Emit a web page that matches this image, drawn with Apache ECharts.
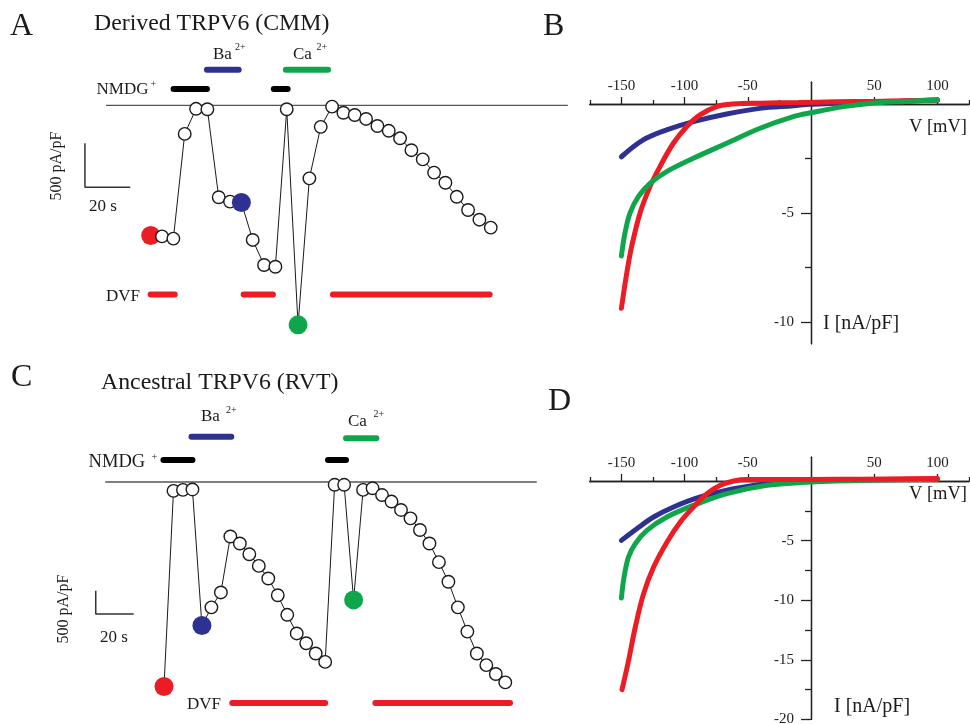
<!DOCTYPE html>
<html><head><meta charset="utf-8">
<script src="https://cdn.jsdelivr.net/npm/echarts@6/dist/echarts.min.js"></script>
<style>html,body{margin:0;padding:0;background:#fff}#c{width:970px;height:724px}</style>
</head><body><div id="c"></div>
<script>
// ================= DATA =================
const stepSec = 5; // seconds between successive points of the time courses
// Panel A: Derived TRPV6 (CMM) current at the test potential (pA/pF)
const traceA = [-1480, -1490, -1515, -325, -40, -45, -1045, -1095, -1105, -1530, -1815, -1835, -45, -2495, -830, -245, -15, -85, -110, -155, -235, -290, -375, -510, -615, -765, -880, -1040, -1190, -1300, -1390];
const markA = { red: 0, blue: 8, green: 13 };
// Panel C: Ancestral TRPV6 (RVT)
const traceC = [-4390, -190, -170, -160, -3080, -2690, -2370, -1170, -1320, -1550, -1800, -2070, -2430, -2850, -3250, -3460, -3680, -3860, -60, -60, -2530, -170, -135, -280, -420, -600, -780, -1030, -1320, -1720, -2140, -2690, -3210, -3680, -3930, -4120, -4300];
const markC = { red: 0, blue: 4, green: 20 };
// solution application periods (s)
const nmdgA = [[10.1, 24.8], [54.3, 60.4]];
const baA = [[24.8, 38.8]];
const caA = [[59.6, 78.2]];
const dvfA = [[0, 10.6], [41, 53.9], [80.4, 149.5]];
const nmdgC = [[-0.3, 15], [86.5, 96]];
const baC = [[14.5, 35.5]];
const caC = [[96, 112]];
const dvfC = [[36, 85], [111.5, 182.5]];
// Panel B: I-V curves (mV, nA/pF)
const bRedV = [-150, -145.8, -141.9, -135.3, -127.4, -119.5, -108.9, -98.4, -87.8, -74.6, -61.5, -40, -10, 20, 50, 75, 100];
const bRedI = [-9.37, -7.77, -6.54, -5.01, -3.79, -2.87, -1.80, -1.04, -0.50, -0.12, 0.0, 0.04, 0.07, 0.1, 0.12, 0.15, 0.18];
const bBlueV = [-150, -132.7, -114.2, -93.1, -66.7, -40.3, -14, 0, 38.8, 70, 100];
const bBlueI = [-2.42, -1.65, -1.19, -0.81, -0.46, -0.20, -0.08, -0.01, 0.08, 0.13, 0.18];
const bGreenV = [-150, -147.2, -143.2, -136.6, -127.4, -114.2, -93.1, -66.7, -40.3, -14, 0, 25.6, 52, 75, 100];
const bGreenI = [-6.97, -5.93, -5.01, -4.25, -3.64, -3.10, -2.49, -1.80, -1.11, -0.58, -0.40, -0.12, 0.06, 0.12, 0.18];
// Panel D
const dRedV = [-149.5, -144.4, -139.1, -132.5, -124.5, -114, -103.4, -92.9, -82.3, -71.7, -61.2, -50.6, -20, 20, 60, 100];
const dRedI = [-17.5, -15.1, -12.3, -9.47, -7.22, -5.13, -3.44, -2.18, -1.06, -0.36, 0, 0.12, 0.12, 0.14, 0.17, 0.2];
const dBlueV = [-150, -137.8, -124.5, -108.7, -87.6, -61.2, -34.7, 0, 50, 100];
const dBlueI = [-4.98, -4.0, -3.02, -2.18, -1.34, -0.64, -0.22, 0, 0.1, 0.15];
const dGreenV = [-150, -147.9, -144.4, -139.1, -129.8, -114, -92.9, -66.5, -34.7, 0, 50, 100];
const dGreenI = [-9.81, -8.07, -6.38, -5.27, -4.14, -3.02, -2.04, -1.06, -0.36, -0.08, 0.08, 0.15];
// axis ticks
const vLabels = [-150, -100, -50, 50, 100];
const vMinor = [-175, -125, -75, -25, 25, 75, 125];
const iLabelsB = [-5, -10];
const iMinorB = [-2.5, -7.5];
const iLabelsD = [-5, -10, -15, -20];
const iMinorD = [-2.5, -7.5, -12.5, -17.5];

// ================= LAYOUT / STYLE =================
const RED = '#ec1c24', BLUE = '#2e3192', GREEN = '#0fa64b', INK = '#1a1a1a';
const FONT = 'Liberation Serif';
const LA = { x0: 150.7, sx: 2.267, y0: 105.3, sy: 0.088, xr: [-60, 190], yr: [-3000, 1100],
  zero: [-19.7, 184], nmdgY: 185, ionY: 405, dvfY: -2150, scale: { t: -29, v: -932, dt: 20, dv: 500 } };
const LC = { x0: 164, sx: 1.896, y0: 482, sy: 0.0466, xr: [-70, 200], yr: [-5200, 1200],
  zero: [-31, 196.6], nmdgY: 472, ionY: 955, dvfY: -4740, scale: { t: -36, v: -2833, dt: 20, dv: 500 } };
function gridFrom(L) {
  return { left: L.x0 + L.xr[0] * L.sx, width: (L.xr[1] - L.xr[0]) * L.sx,
    top: L.y0 - L.yr[1] * L.sy, height: (L.yr[1] - L.yr[0]) * L.sy, outerBoundsMode: 'none' };
}
// I-V panels: V range [-175,125], B: I range [-11,1], D: I range [-20,2]
const ivX0 = 811, ivSx = 1.264;
const B = { top: 104 - 21.8, height: 12 * 21.8, yMin: -11, yMax: 1 };
const D = { top: 481 - 2 * 11.92, height: 22 * 11.92, yMin: -20, yMax: 2 };
const gridB = { left: ivX0 - 175 * ivSx, width: 300 * ivSx, top: B.top, height: B.height, outerBoundsMode: 'none' };
const gridD = { left: ivX0 - 175 * ivSx, width: 300 * ivSx, top: D.top, height: D.height, outerBoundsMode: 'none' };

const series = [];
function traceSeries(trace, marks, xi) {
  const colorOf = {}; colorOf[marks.red] = RED; colorOf[marks.blue] = BLUE; colorOf[marks.green] = GREEN;
  const data = trace.map((v, i) => {
    const p = [i * stepSec, v];
    if (colorOf[i]) return { value: p, symbolSize: 19, itemStyle: { color: colorOf[i], borderColor: colorOf[i], borderWidth: 0 } };
    return p;
  });
  series.push({ type: 'line', xAxisIndex: xi, yAxisIndex: xi, data, symbol: 'circle', symbolSize: 12.5,
    showAllSymbol: true, clip: false, z: 5,
    lineStyle: { color: INK, width: 1 }, itemStyle: { color: '#fff', borderColor: INK, borderWidth: 1.4 } });
}
function segSeries(xi, pts, color, width, cap, z) {
  series.push({ type: 'line', xAxisIndex: xi, yAxisIndex: xi, data: pts, symbol: 'none', clip: false, z: z || 2,
    lineStyle: { color, width, cap: cap || 'butt' } });
}
function panelMarks(L, xi, nmdg, ba, ca, dvf, baY, caY) {
  segSeries(xi, [[L.zero[0], 0], [L.zero[1], 0]], '#555', 1.3);
  nmdg.forEach(r => segSeries(xi, [[r[0], L.nmdgY], [r[1], L.nmdgY]], '#000', 6, 'round'));
  ba.forEach(r => segSeries(xi, [[r[0], baY], [r[1], baY]], BLUE, 6, 'round'));
  ca.forEach(r => segSeries(xi, [[r[0], caY], [r[1], caY]], GREEN, 6, 'round'));
  dvf.forEach(r => segSeries(xi, [[r[0], L.dvfY], [r[1], L.dvfY]], RED, 6, 'round'));
  const s = L.scale;
  segSeries(xi, [[s.t, s.v + s.dv], [s.t, s.v], [s.t + s.dt, s.v]], '#333', 1.5);
}
panelMarks(LA, 0, nmdgA, baA, caA, dvfA, LA.ionY, LA.ionY);
traceSeries(traceA, markA, 0);
panelMarks(LC, 1, nmdgC, baC, caC, dvfC, 972, 938);
traceSeries(traceC, markC, 1);

function curve(xi, V, I, color, z) {
  series.push({ type: 'line', xAxisIndex: xi, yAxisIndex: xi, data: V.map((v, k) => [v, I[k]]),
    symbol: 'none', smooth: 0.35, z, lineStyle: { color, width: 5, cap: 'round' } });
}
curve(2, bBlueV, bBlueI, BLUE, 3);
curve(2, bRedV, bRedI, RED, 4);
curve(2, bGreenV, bGreenI, GREEN, 5);
curve(4, dBlueV, dBlueI, BLUE, 3);
curve(4, dGreenV, dGreenI, GREEN, 4);
curve(4, dRedV, dRedI, RED, 5);

const axisLine = { color: '#222', width: 1.3 };
const lbl = { fontFamily: FONT, fontSize: 15, color: '#222' };
function hidden(gi, L, dim) {
  return { gridIndex: gi, type: 'value', show: false, min: dim === 'x' ? L.xr[0] : L.yr[0], max: dim === 'x' ? L.xr[1] : L.yr[1] };
}
// x axis of an I-V panel drawn through I = 0 (offset inward from the grid top)
function ivX(gi, P, ticks, labels, len) {
  const off = -(P.yMax / (P.yMax - P.yMin)) * P.height;
  return { gridIndex: gi, type: 'value', min: -175, max: 125, position: 'top', offset: off,
    axisLine: { show: true, onZero: false, lineStyle: axisLine },
    axisTick: { show: true, customValues: ticks, length: len, lineStyle: axisLine },
    axisLabel: labels ? Object.assign({ show: true, customValues: labels, margin: 10 }, lbl) : { show: false },
    splitLine: { show: false } };
}
// y axis drawn through V = 0
function ivY(gi, P, ticks, labels, len) {
  const off = -175 * ivSx;
  return { gridIndex: gi, type: 'value', min: P.yMin, max: P.yMax, position: 'left', offset: off,
    axisLine: { show: true, onZero: false, lineStyle: axisLine },
    axisTick: { show: true, customValues: ticks, length: len, lineStyle: axisLine },
    axisLabel: labels ? Object.assign({ show: true, customValues: labels, margin: 17 }, lbl) : { show: false },
    splitLine: { show: false } };
}

const texts = [];
function txt(text, x, y, size, align, rot) {
  texts.push({ type: 'text', x, y, rotation: rot || 0, z: 50,
    style: { text, x: 0, y: 0, fill: INK, font: size + 'px "' + FONT + '"', textAlign: align || 'left', textVerticalAlign: 'middle' } });
}
// Panel A labels
txt('A', 10, 27, 32); txt('Derived TRPV6 (CMM)', 94, 24, 23.8);
txt('Ba', 213, 55, 17); txt('2+', 235, 47, 10);
txt('Ca', 293, 55, 17); txt('2+', 316.5, 47, 10);
txt('NMDG', 96.5, 89.5, 17); txt('+', 150.5, 84, 10);
txt('DVF', 106, 297, 17);
txt('500 pA/pF', 57, 166, 16, 'center', Math.PI / 2);
txt('20 s', 103, 207, 17, 'center');
// Panel C labels
txt('C', 11, 378, 32); txt('Ancestral TRPV6 (RVT)', 101, 383, 23.8);
txt('Ba', 201, 417, 17); txt('2+', 226, 410, 10);
txt('Ca', 348, 422, 17); txt('2+', 373.5, 414, 10);
txt('NMDG', 88.6, 462, 18.5); txt('+', 151.5, 457, 10);
txt('DVF', 187, 705, 17);
txt('500 pA/pF', 64, 609, 16, 'center', Math.PI / 2);
txt('20 s', 114, 638, 17, 'center');
// Panel B / D labels
txt('B', 543, 27, 32); txt('V [mV]', 967, 127, 18.5, 'right'); txt('I [nA/pF]', 823, 324, 20);
txt('D', 548, 402, 32); txt('V [mV]', 967, 494, 18.5, 'right'); txt('I [nA/pF]', 834, 707, 20);

const option = {
  animation: false,
  backgroundColor: '#fff',
  grid: [gridFrom(LA), gridFrom(LC), gridB, gridD],
  xAxis: [hidden(0, LA, 'x'), hidden(1, LC, 'x'),
    ivX(2, B, vLabels, vLabels, 7), ivX(2, B, vMinor, null, 4),
    ivX(3, D, vLabels, vLabels, 7), ivX(3, D, vMinor, null, 4)],
  yAxis: [hidden(0, LA, 'y'), hidden(1, LC, 'y'),
    ivY(2, B, iLabelsB, iLabelsB, 10), ivY(2, B, iMinorB, null, 6),
    ivY(3, D, iLabelsD, iLabelsD, 10), ivY(3, D, iMinorD, null, 6)],
  series,
  graphic: texts
};
const chart = echarts.init(document.getElementById('c'), null, { renderer: 'canvas' });
chart.setOption(option);
</script></body></html>
